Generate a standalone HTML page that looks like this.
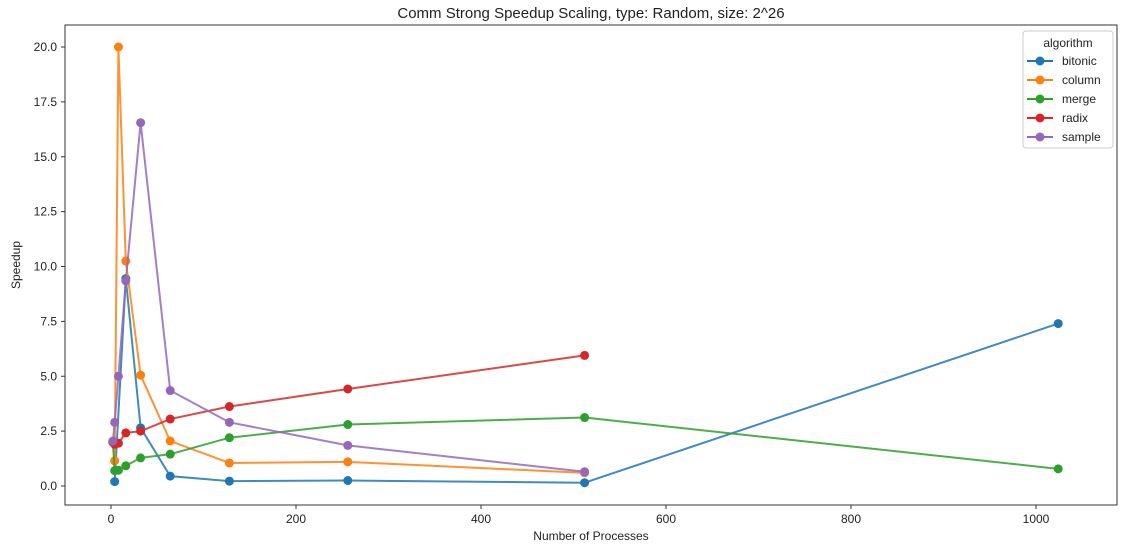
<!DOCTYPE html>
<html><head><meta charset="utf-8"><style>
body{margin:0;background:#fff;font-family:"Liberation Sans","DejaVu Sans",sans-serif;}
svg text{font-family:"Liberation Sans","DejaVu Sans",sans-serif;fill:#222;}
</style></head><body>
<svg id="chart" width="1121" height="541" xmlns="http://www.w3.org/2000/svg">
<text x="591" y="18" text-anchor="middle" font-size="15">Comm Strong Speedup Scaling, type: Random, size: 2^26</text>
<g id="axes"></g>
<g id="series"></g>
<rect x="65" y="25" width="1052" height="480" fill="none" stroke="#333" stroke-width="1"/>
<text x="591" y="540" text-anchor="middle" font-size="12">Number of Processes</text>
<text transform="translate(20,265) rotate(-90)" text-anchor="middle" font-size="12">Speedup</text>
<g id="legend"></g>
</svg>
<script>
const xTicks=[0,200,400,600,800,1000];
const yTicks=[0,2.5,5,7.5,10,12.5,15,17.5,20];
const yTickLabels=["0.0","2.5","5.0","7.5","10.0","12.5","15.0","17.5","20.0"];
const seriesNames=["bitonic","column","merge","radix","sample"];
const colors=["#1f77b4","#ff7f0e","#2ca02c","#d62728","#9467bd"];
const bitonicX=[4,16,32,64,128,256,512,1024];
const bitonicY=[0.2,9.45,2.65,0.45,0.22,0.25,0.15,7.4];
const columnX=[2,4,8,16,32,64,128,256,512];
const columnY=[2.0,1.15,20.0,10.25,5.05,2.05,1.05,1.1,0.6];
const mergeX=[2,4,8,16,32,64,128,256,512,1024];
const mergeY=[2.0,0.7,0.72,0.92,1.28,1.45,2.2,2.8,3.12,0.78];
const radixX=[2,4,8,16,32,64,128,256,512];
const radixY=[2.0,1.9,1.95,2.42,2.5,3.05,3.62,4.42,5.95];
const sampleX=[2,4,8,16,32,64,128,256,512];
const sampleY=[2.05,2.9,5.0,9.35,16.55,4.35,2.9,1.85,0.65];
const xs=[bitonicX,columnX,mergeX,radixX,sampleX];
const ys=[bitonicY,columnY,mergeY,radixY,sampleY];
const NS="http://www.w3.org/2000/svg";
function sx(v){return 111+v*0.925;}
function sy(v){return 486-v*21.95;}
function mk(tag,attrs,parent){const e=document.createElementNS(NS,tag);for(const k in attrs)e.setAttribute(k,attrs[k]);parent.appendChild(e);return e;}
const axes=document.getElementById('axes');
xTicks.forEach(t=>{
  const l=mk('line',{x1:sx(t),x2:sx(t),y1:505,y2:509,stroke:'#333'},axes);
  
  
  const tx=mk('text',{x:sx(t),y:523,'text-anchor':'middle','font-size':'12'},axes);
  tx.textContent=t;
  
  
});
yTicks.forEach((t,i)=>{
  const l=mk('line',{x1:61,x2:65,y1:sy(t),y2:sy(t),stroke:'#333'},axes);
  
  
  const tx=mk('text',{x:57,y:sy(t)+4,'text-anchor':'end','font-size':'12'},axes);
  tx.textContent=yTickLabels[i];
  
  
});
const sg=document.getElementById('series');
seriesNames.forEach((n,i)=>{
  const g=mk('g',{},sg);
  
  
  const pts=xs[i].map((x,j)=>sx(x)+','+sy(ys[i][j])).join(' ');
  const pl=mk('polyline',{points:pts,fill:'none',stroke:colors[i],'stroke-width':2,opacity:0.85},g);
  
  
  xs[i].forEach((x,j)=>{
    const c=mk('circle',{cx:sx(x),cy:sy(ys[i][j]),r:4.5,fill:colors[i]},g);
    
    
  });
});
const lg=document.getElementById('legend');
mk('rect',{x:1023,y:31,width:90,height:117,rx:3,fill:'#fff',stroke:'#ccc'},lg);
const lt=mk('text',{x:1068,y:47,'text-anchor':'middle','font-size':'12'},lg);
lt.textContent='algorithm';
seriesNames.forEach((n,i)=>{
  const y=61+i*19;
  const e=mk('g',{},lg);
  
  
  mk('line',{x1:1027,x2:1053,y1:y,y2:y,stroke:colors[i],'stroke-width':2},e);
  mk('circle',{cx:1040,cy:y,r:4.5,fill:colors[i]},e);
  const t=mk('text',{x:1062,y:y+4,'font-size':'12'},e);
  t.textContent=n;
});
</script>
</body></html>
